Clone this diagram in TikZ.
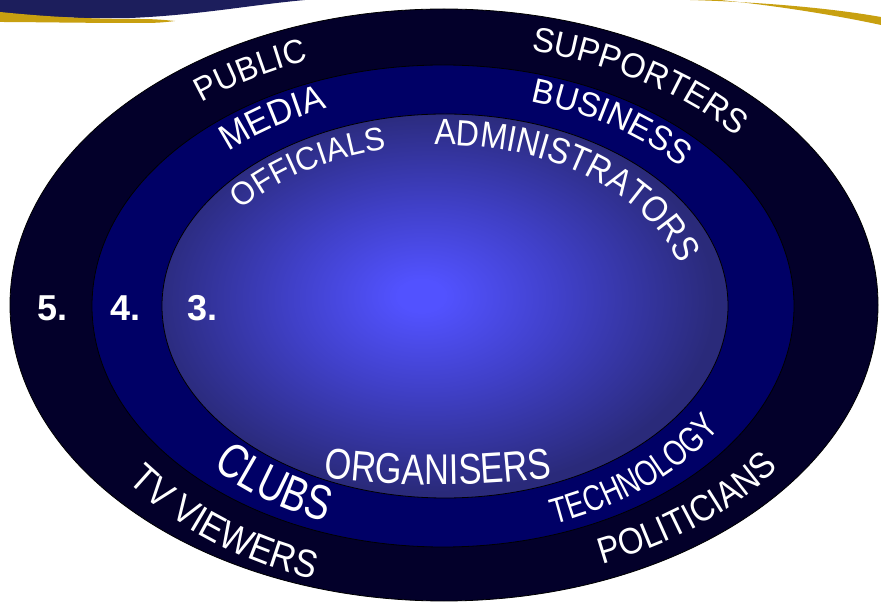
\documentclass[tikz,border=0pt]{standalone}
\usepackage{fontspec}
\setmainfont{Liberation Sans}
\newfontfamily\fA[FakeStretch=0.95]{Liberation Sans}
\newfontfamily\fB[FakeStretch=0.88]{Liberation Sans}
\newfontfamily\fC[FakeStretch=0.80]{Liberation Sans}
\newfontfamily\fD[FakeStretch=0.77]{Liberation Sans}
\usetikzlibrary{decorations.text}
\definecolor{outerc}{RGB}{3,0,42}
\definecolor{midc}{RGB}{0,0,102}
\definecolor{cin}{RGB}{82,82,255}
\definecolor{cmid}{RGB}{64,64,200}
\definecolor{cout}{RGB}{42,42,122}
\definecolor{gold}{RGB}{200,160,16}
\definecolor{swoosh}{RGB}{28,30,92}
\pgfdeclareradialshading{innershade}{\pgfpoint{-2.2bp}{1.4bp}}{color(0bp)=(cin); color(2bp)=(cin); color(12bp)=(cmid); color(25bp)=(cout); color(50bp)=(cout)}
\tikzset{
  ringlabel/.style={decorate,decoration={text along path,text align=center,text={#1}}},
  ringline/.style={draw=black,line width=0.8pt},
  numlbl/.style={text=white,inner sep=0pt,anchor=base west,font=\bfseries\fontsize{36}{36}\selectfont}
}
\begin{document}
\begin{tikzpicture}[x=1pt,y=1pt]
\useasboundingbox[fill=white] (0,0) rectangle (881,608);
% top decorations
\fill[swoosh] (0,608) -- (305,608) .. controls (250,603) and (200,593) .. (130,590) .. controls (70,589) and (30,592) .. (0,595) -- cycle;
\fill[gold] (0,596) .. controls (40,592) and (80,589) .. (140,589) .. controls (155,589) and (165,588) .. (175,587) .. controls (160,585) and (150,585) .. (140,585) .. controls (80,585) and (30,586) .. (0,586) -- cycle;
\fill[gold] (690,608) .. controls (760,606) and (830,600) .. (881,591) -- (881,583) .. controls (830,594) and (770,603) .. (720,608) -- cycle;
% rings
\path[ringline,fill=outerc] (444,303) ellipse [x radius=434,y radius=296];
\path[ringline,fill=midc] (443,302) ellipse [x radius=351,y radius=241];
\shade[shading=innershade] (445,302) ellipse [x radius=283,y radius=192];
\path[ringline] (445,302) ellipse [x radius=283,y radius=192];
% numbers
\node[numlbl] (n5) at (37,287) {5.};
\node[numlbl] (n4) at (110,287) {4.};
\node[numlbl] (n3) at (187,287) {3.};
% outer ring labels
\path[ringlabel={|\fA\fontsize{33.5}{33.5}\selectfont\color{white}|PUBLIC}] ([shift={(144:383 and 261)}]444,303) arc[start angle=144,end angle=98,x radius=383,y radius=261];
\path[ringlabel={|\fA\fontsize{34.5}{34.5}\selectfont\color{white}|SUPPORTERS}] ([shift={(88:383 and 261)}]444,303) arc[start angle=88,end angle=26,x radius=383,y radius=261];
\path[ringlabel={|\fB\fontsize{39}{39}\selectfont\color{white}|TV VIEWERS}] ([shift={(202.5:398 and 291)}]444,303) arc[start angle=202.5,end angle=263,x radius=398,y radius=291];
\path[ringlabel={|\fB\fontsize{37}{37}\selectfont\color{white}|POLITICIANS}] ([shift={(285.5:411 and 281)}]444,303) arc[start angle=285.5,end angle=333.5,x radius=411,y radius=281];
% middle ring labels
\path[ringlabel={|\fA\fontsize{36}{36}\selectfont\color{white}|MEDIA}] ([shift={(148:312 and 212)}]444,303) arc[start angle=148,end angle=100,x radius=312,y radius=212];
\path[ringlabel={|\fA\fontsize{34.5}{34.5}\selectfont\color{white}|BUSINESS}] ([shift={(86.5:312 and 212)}]444,303) arc[start angle=86.5,end angle=24.5,x radius=312,y radius=212];
\path[ringlabel={|\fD\fontsize{49}{49}\selectfont\color{white}|CLUBS}] ([shift={(214:322 and 234)}]444,303) arc[start angle=214,end angle=257,x radius=322,y radius=234];
\path[ringlabel={|\fD\fontsize{36}{36}\selectfont\color{white}|TECHNOLOGY}] ([shift={(285.5:325 and 233)}]444,303) arc[start angle=285.5,end angle=333.5,x radius=325,y radius=233];
% inner labels
\path[ringlabel={|\fA\fontsize{32.5}{32.5}\selectfont\color{white}|OFFICIALS}] ([shift={(159.5:252 and 160)}]444,303) arc[start angle=159.5,end angle=91.5,x radius=252,y radius=160];
\path[ringlabel={|\fB\fontsize{36.5}{36.5}\selectfont\color{white}|ADMINISTRATORS}] ([shift={(101:247 and 170)}]444,293) arc[start angle=101,end angle=5,x radius=247,y radius=170];
\path[ringlabel={|\fC\fontsize{43}{43}\selectfont\color{white}|ORGANISERS}] ([shift={(245:400 and 180)}]438,303) arc[start angle=245,end angle=295,x radius=400,y radius=180];
\end{tikzpicture}
\end{document}
